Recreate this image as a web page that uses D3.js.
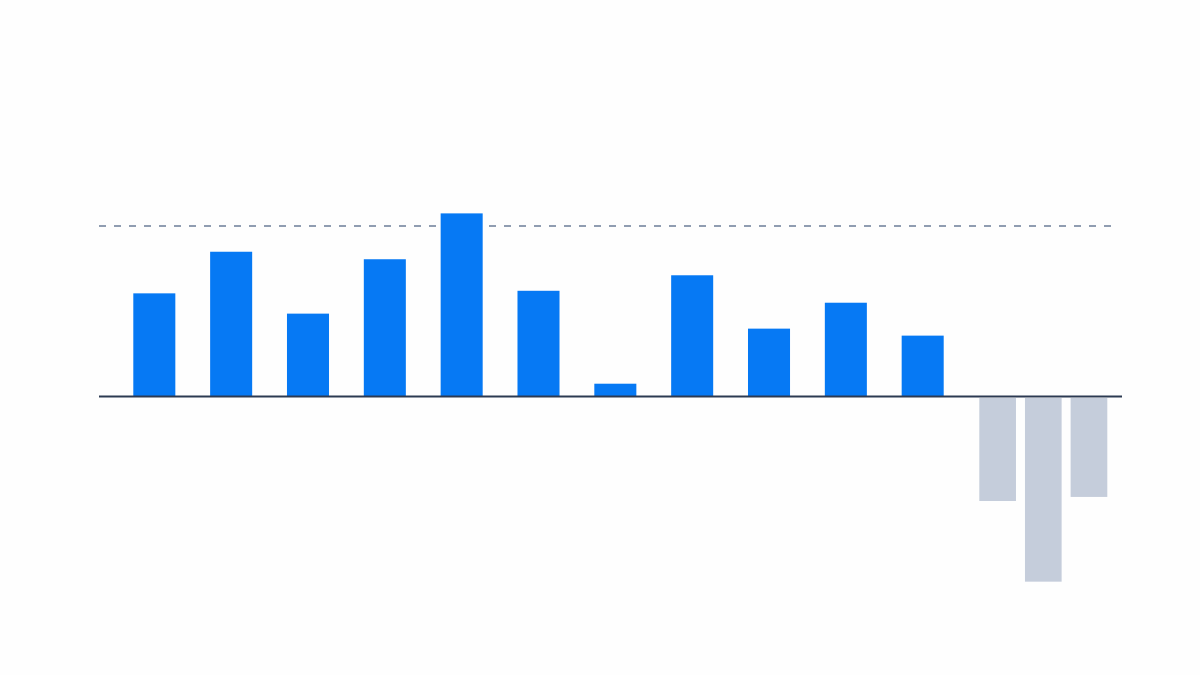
<!DOCTYPE html>
<html>
<head>
<meta charset="utf-8">
<script src="https://cdn.jsdelivr.net/npm/d3@7"></script>
<style>
  body { margin: 0; background: #fefefe; }
</style>
</head>
<body>
<div id="container"></div>
<script>
let w = 1200;
let h = 675;

// data (units: dashed target line = 10)
let posCats = ["A","B","C","D","E","F","G","H","I","J","K"];
let posValues = [6.05, 8.49, 4.86, 8.05, 10.74, 6.2, 0.75, 7.11, 3.98, 5.5, 3.57];
let negCats = ["L","M","N"];
let negValues = [-6.13, -10.86, -5.89];
let target = 10;

let viz = d3.select("#container")
  .append("svg")
    .attr("width", w)
    .attr("height", h)
    .style("background-color", "#fefefe")
;

// scales
let yScale = d3.scaleLinear().domain([-11, 11]).range([584.05, 208.95]);
let xPos = d3.scaleBand().domain(posCats).range([133.3, 943.7]).paddingInner(0.453).paddingOuter(0);
let xNeg = d3.scaleBand().domain(negCats).range([979.3, 1107.3]).paddingInner(0.197).paddingOuter(0);

// dashed target line (behind the bars)
viz.append("line")
  .attr("x1", 99)
  .attr("x2", 1118)
  .attr("y1", yScale(target))
  .attr("y2", yScale(target))
  .attr("stroke", "#6c7d98")
  .attr("stroke-width", 1.6)
  .attr("stroke-dasharray", "7,8")
;

// blue bars going up
viz.selectAll(".pos").data(posValues).enter()
  .append("rect")
    .attr("class", "pos")
    .attr("x", function(d, i){ return xPos(posCats[i]); })
    .attr("y", function(d){ return yScale(d); })
    .attr("width", xPos.bandwidth())
    .attr("height", function(d){ return yScale(0) - yScale(d); })
    .attr("fill", "#0679f4")
;

// grey bars going down
viz.selectAll(".neg").data(negValues).enter()
  .append("rect")
    .attr("class", "neg")
    .attr("x", function(d, i){ return xNeg(negCats[i]); })
    .attr("y", yScale(0) + 1.5)
    .attr("width", xNeg.bandwidth())
    .attr("height", function(d){ return yScale(d) - yScale(0) - 1.5; })
    .attr("fill", "#c5cddb")
;

// zero line
viz.append("line")
  .attr("x1", 99)
  .attr("x2", 1122)
  .attr("y1", yScale(0))
  .attr("y2", yScale(0))
  .attr("stroke", "#2c3a52")
  .attr("stroke-width", 2)
;
</script>
</body>
</html>
